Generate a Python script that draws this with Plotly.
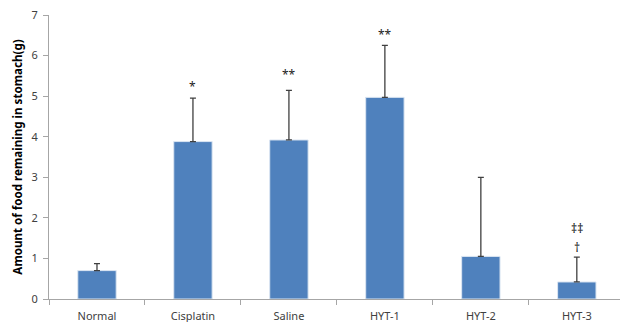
import plotly.graph_objects as go

categories = ["Normal", "Cisplatin", "Saline", "HYT-1", "HYT-2", "HYT-3"]
means = [0.70, 3.88, 3.92, 4.97, 1.05, 0.42]
errors = [0.17, 1.07, 1.22, 1.28, 1.95, 0.61]

# significance symbols: (category, text, y position)
sig_marks = [
    ("Cisplatin", "*", 5.25),
    ("Saline", "**", 5.54),
    ("HYT-1", "**", 6.53),
    ("HYT-3", "‡‡", 1.75),
    ("HYT-3", "†", 1.28),
]

fig = go.Figure()
fig.add_trace(go.Bar(
    x=categories, y=means, width=0.4,
    marker=dict(color="#4F81BD", line=dict(color="#DCE6F2", width=1)),
    error_y=dict(type="data", array=errors, arrayminus=[0] * len(errors),
                 symmetric=False, color="#404040", thickness=1.3, width=3),
))

for c, t, yv in sig_marks:
    fig.add_annotation(x=c, y=yv, text=t, showarrow=False,
                       yanchor="middle",
                       font=dict(family="Noto Sans, DejaVu Sans, sans-serif",
                                 size=12, color="#1a1a1a"))

fig.update_layout(
    width=620, height=322,
    margin=dict(l=49, r=0, t=15, b=23),
    plot_bgcolor="white", paper_bgcolor="white",
    font=dict(family="Noto Sans, DejaVu Sans, sans-serif", size=11, color="#404040"),
    showlegend=False, bargap=0.6,
    xaxis=dict(showline=True, linecolor="#A6A6A6", linewidth=1,
               ticks="outside", ticklen=5, tickcolor="#A6A6A6",
               tickson="boundaries", range=[-0.5, 5.45],
               ticklabelstandoff=7,
               tickfont=dict(size=11, color="#404040")),
    yaxis=dict(range=[0, 7], dtick=1, showline=True, linecolor="#A6A6A6",
               linewidth=1, ticks="outside", ticklen=5, tickcolor="#A6A6A6",
               showgrid=False, zeroline=False, ticklabelstandoff=3,
               tickfont=dict(size=11, color="#404040"),
               title=dict(text="<b>Amount of food remaining in stomach(g)</b>",
                          font=dict(size=11.6, color="#000000"), standoff=6)),
)

fig.write_html("out.html")
